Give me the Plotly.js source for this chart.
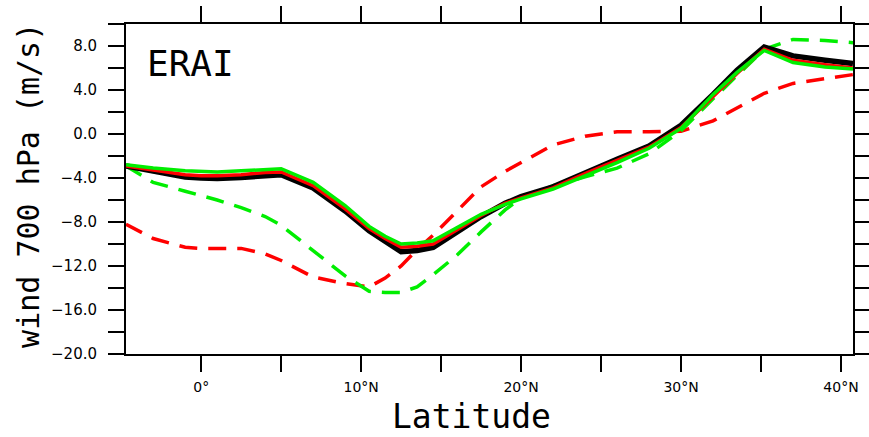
<!DOCTYPE html>
<html>
<head>
<meta charset="utf-8">
<script src="https://cdn.plot.ly/plotly-3.0.1.min.js"></script>
<style>html,body{margin:0;padding:0;background:#fff;}#chart{width:869px;height:437px;}</style>
</head>
<body>
<div id="chart"></div>
<script>
// Latitude (degrees, negative = south)
const lat = [-4.7, -3, -1, 0, 1, 2.5, 4, 5, 7, 9, 10.5, 11.5, 12.5, 13.5, 14.5, 16, 17.5, 19, 20, 22, 24, 26, 28, 30, 32, 33.5, 35.2, 37, 39, 40.75];

// ERAI (black solid)
const eraiSolid = [-2.9, -3.4, -3.9, -4.0, -4.05, -3.95, -3.75, -3.7, -4.9, -7.0, -8.8, -9.8, -10.7, -10.6, -10.3, -8.9, -7.5, -6.3, -5.7, -4.8, -3.5, -2.3, -1.1, 0.8, 3.6, 5.8, 7.9, 7.1, 6.7, 6.4];
// red solid
const redSolid = [-2.9, -3.3, -3.7, -3.8, -3.8, -3.7, -3.5, -3.45, -4.7, -6.8, -8.6, -9.5, -10.3, -10.2, -10.0, -8.7, -7.4, -6.3, -5.8, -4.9, -3.6, -2.4, -1.2, 0.6, 3.4, 5.5, 7.7, 6.7, 6.3, 6.0];
// green solid
const greenSolid = [-2.8, -3.1, -3.35, -3.4, -3.45, -3.35, -3.2, -3.15, -4.4, -6.5, -8.4, -9.3, -10.0, -9.9, -9.7, -8.5, -7.3, -6.4, -5.9, -5.0, -3.8, -2.6, -1.3, 0.5, 3.6, 5.6, 7.6, 6.5, 6.1, 5.9];
// red dashed
const redDashed = [-8.2, -9.5, -10.3, -10.4, -10.4, -10.4, -10.9, -11.5, -13.0, -13.6, -13.9, -13.1, -12.0, -10.5, -9.2, -7.0, -4.8, -3.4, -2.6, -1.0, -0.2, 0.2, 0.2, 0.25, 1.2, 2.4, 3.7, 4.6, 5.0, 5.4];
// green dashed
const greenDashed = [-2.9, -4.4, -5.2, -5.6, -6.0, -6.7, -7.5, -8.3, -10.6, -12.9, -14.3, -14.4, -14.4, -13.9, -12.8, -11.0, -8.9, -6.9, -5.8, -4.7, -3.9, -3.1, -1.8, 0.3, 3.2, 5.3, 7.7, 8.6, 8.5, 8.3];

// Axis ticks
const xTickVals = [0, 5, 10, 15, 20, 25, 30, 35, 40];
const xTickText = ["0°", "", "10°N", "", "20°N", "", "30°N", "", "40°N"];
const yTickVals = [-20, -16, -12, -8, -4, 0, 4, 8];
const yTickText = ["\u221220.0", "\u221216.0", "\u221212.0", "\u22128.0", "\u22124.0", "0.0", "4.0", "8.0"];
const yMinorVals = [-18, -14, -10, -6, -2, 2, 6, 10];
const yRightVals = [-20, -18, -16, -14, -12, -10, -8, -6, -4, -2, 0, 2, 4, 6, 8, 10];

const dashPat = "18px,11px";
const traces = [
  {x: lat, y: redDashed, mode: 'lines', line: {color: '#ff0000', width: 3.5, dash: dashPat}},
  {x: lat, y: greenDashed, mode: 'lines', line: {color: '#00ee00', width: 3.5, dash: dashPat}},
  {x: lat, y: eraiSolid, mode: 'lines', line: {color: '#000000', width: 5.5}},
  {x: lat, y: redSolid, mode: 'lines', line: {color: '#ff0000', width: 3.5}},
  {x: lat, y: greenSolid, mode: 'lines', line: {color: '#00ee00', width: 3.5}}
];

const tickFont = {family: 'DejaVu Sans, sans-serif', size: 15, color: '#000'};
const xTickFont = {family: 'DejaVu Sans, sans-serif', size: 14, color: '#000'};
const common = {showgrid: false, zeroline: false, showline: true, linecolor: '#000', linewidth: 2,
  ticks: 'outside', ticklen: 16, tickwidth: 2, tickcolor: '#000'};

const layout = {
  width: 869, height: 437,
  margin: {l: 126, r: 16, t: 24, b: 83},
  paper_bgcolor: '#fff', plot_bgcolor: '#fff',
  showlegend: false,
  xaxis: Object.assign({}, common, {range: [-4.7, 40.75], tickmode: 'array', tickvals: xTickVals, ticktext: xTickText,
    tickfont: xTickFont, ticklabelstandoff: 3}),
  xaxis2: Object.assign({}, common, {range: [-4.7, 40.75], overlaying: 'x', side: 'top', tickmode: 'array',
    tickvals: xTickVals, showticklabels: false, matches: 'x'}),
  yaxis: Object.assign({}, common, {range: [-20, 10], tickmode: 'array', tickvals: yTickVals, ticktext: yTickText,
    tickfont: tickFont, ticklabelstandoff: 8,
    minor: {tickmode: 'array', tickvals: yMinorVals, ticklen: 16, tickwidth: 2, tickcolor: '#000', ticks: 'outside'}}),
  yaxis2: Object.assign({}, common, {range: [-20, 10], overlaying: 'y', side: 'right', tickmode: 'array',
    tickvals: yRightVals, showticklabels: false}),
  annotations: [
    {text: 'ERAI', xref: 'paper', yref: 'paper', x: 0.026, y: 0.95, xanchor: 'left', yanchor: 'top', showarrow: false,
      font: {family: 'DejaVu Sans Mono, monospace', size: 36, color: '#000'}},
    {text: 'Latitude', xref: 'paper', yref: 'paper', x: 0.4746, y: -0.251, xanchor: 'center', yanchor: 'bottom', showarrow: false,
      borderpad: 0, font: {family: 'DejaVu Sans Mono, monospace', size: 33, color: '#000'}},
    {text: 'wind 700 hPa (m/s)', xref: 'paper', yref: 'paper', x: -0.135, y: 0.512, xanchor: 'center', yanchor: 'middle',
      textangle: -90, showarrow: false, font: {family: 'DejaVu Sans Mono, monospace', size: 30, color: '#000'}}
  ]
};

// invisible trace to activate the mirrored axes
traces.push({x: [0], y: [0], xaxis: 'x2', yaxis: 'y2', mode: 'markers', marker: {opacity: 0}, hoverinfo: 'skip'});

Plotly.newPlot('chart', traces, layout, {staticPlot: true, displayModeBar: false});
</script>
</body>
</html>
